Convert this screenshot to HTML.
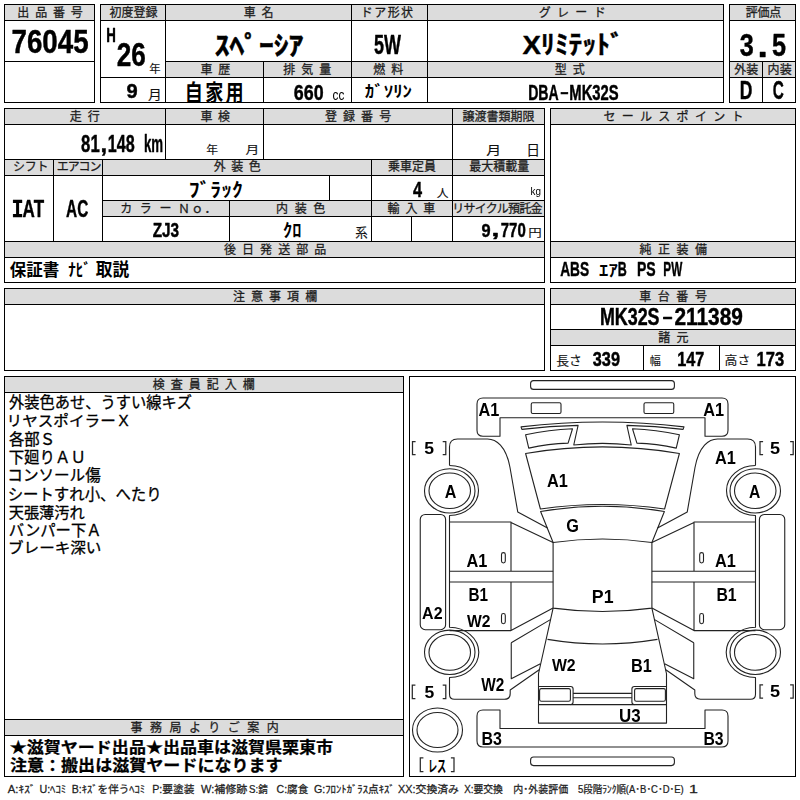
<!DOCTYPE html>
<html lang="ja"><head><meta charset="utf-8"><title>Auction sheet 76045</title>
<style>
html,body{margin:0;padding:0;background:#fff}
body{width:800px;height:800px;position:relative;overflow:hidden;font-family:"Liberation Sans",sans-serif;color:#000}
.g{position:absolute;background:#dcdcdc}
.l{position:absolute;background:#000}
svg{position:absolute;left:0;top:0;overflow:visible}
</style></head><body>
<div class="g" style="left:5px;top:5px;width:89px;height:15px"></div>
<div class="g" style="left:101px;top:5px;width:622px;height:15px"></div>
<div class="g" style="left:166px;top:62px;width:557px;height:15px"></div>
<div class="g" style="left:730px;top:5px;width:65px;height:15px"></div>
<div class="g" style="left:730px;top:62px;width:65px;height:15px"></div>
<div class="g" style="left:5px;top:109px;width:539px;height:15px"></div>
<div class="g" style="left:5px;top:160px;width:539px;height:15px"></div>
<div class="g" style="left:103px;top:201px;width:441px;height:15px"></div>
<div class="g" style="left:5px;top:242px;width:539px;height:15px"></div>
<div class="g" style="left:551px;top:109px;width:244px;height:15px"></div>
<div class="g" style="left:551px;top:242px;width:244px;height:15px"></div>
<div class="g" style="left:5px;top:289px;width:539px;height:15px"></div>
<div class="g" style="left:551px;top:289px;width:244px;height:15px"></div>
<div class="g" style="left:551px;top:330px;width:244px;height:15px"></div>
<div class="g" style="left:5px;top:377px;width:398px;height:15px"></div>
<div class="g" style="left:5px;top:720px;width:398px;height:15px"></div>
<div class="l" style="left:4px;top:4px;width:91px;height:1px"></div>
<div class="l" style="left:4px;top:102px;width:91px;height:1px"></div>
<div class="l" style="left:4px;top:20px;width:91px;height:1px"></div>
<div class="l" style="left:4px;top:61px;width:91px;height:1px"></div>
<div class="l" style="left:100px;top:4px;width:624px;height:1px"></div>
<div class="l" style="left:100px;top:102px;width:624px;height:1px"></div>
<div class="l" style="left:100px;top:20px;width:624px;height:1px"></div>
<div class="l" style="left:165px;top:61px;width:559px;height:1px"></div>
<div class="l" style="left:100px;top:77px;width:624px;height:1px"></div>
<div class="l" style="left:729px;top:4px;width:67px;height:1px"></div>
<div class="l" style="left:729px;top:102px;width:67px;height:1px"></div>
<div class="l" style="left:729px;top:20px;width:67px;height:1px"></div>
<div class="l" style="left:729px;top:61px;width:67px;height:1px"></div>
<div class="l" style="left:729px;top:77px;width:67px;height:1px"></div>
<div class="l" style="left:4px;top:108px;width:541px;height:1px"></div>
<div class="l" style="left:4px;top:282px;width:541px;height:1px"></div>
<div class="l" style="left:4px;top:124px;width:541px;height:1px"></div>
<div class="l" style="left:4px;top:159px;width:541px;height:1px"></div>
<div class="l" style="left:4px;top:175px;width:541px;height:1px"></div>
<div class="l" style="left:102px;top:200px;width:443px;height:1px"></div>
<div class="l" style="left:102px;top:216px;width:443px;height:1px"></div>
<div class="l" style="left:4px;top:241px;width:541px;height:1px"></div>
<div class="l" style="left:4px;top:257px;width:541px;height:1px"></div>
<div class="l" style="left:550px;top:108px;width:246px;height:1px"></div>
<div class="l" style="left:550px;top:282px;width:246px;height:1px"></div>
<div class="l" style="left:550px;top:124px;width:246px;height:1px"></div>
<div class="l" style="left:550px;top:241px;width:246px;height:1px"></div>
<div class="l" style="left:550px;top:257px;width:246px;height:1px"></div>
<div class="l" style="left:4px;top:288px;width:541px;height:1px"></div>
<div class="l" style="left:4px;top:370px;width:541px;height:1px"></div>
<div class="l" style="left:4px;top:304px;width:541px;height:1px"></div>
<div class="l" style="left:550px;top:288px;width:246px;height:1px"></div>
<div class="l" style="left:550px;top:370px;width:246px;height:1px"></div>
<div class="l" style="left:550px;top:304px;width:246px;height:1px"></div>
<div class="l" style="left:550px;top:329px;width:246px;height:1px"></div>
<div class="l" style="left:550px;top:345px;width:246px;height:1px"></div>
<div class="l" style="left:4px;top:376px;width:400px;height:1px"></div>
<div class="l" style="left:4px;top:776px;width:400px;height:1px"></div>
<div class="l" style="left:4px;top:392px;width:400px;height:1px"></div>
<div class="l" style="left:4px;top:719px;width:400px;height:1px"></div>
<div class="l" style="left:4px;top:735px;width:400px;height:1px"></div>
<div class="l" style="left:409px;top:376px;width:387px;height:1px"></div>
<div class="l" style="left:409px;top:776px;width:387px;height:1px"></div>
<div class="l" style="left:4px;top:4px;width:1px;height:99px"></div>
<div class="l" style="left:94px;top:4px;width:1px;height:99px"></div>
<div class="l" style="left:100px;top:4px;width:1px;height:99px"></div>
<div class="l" style="left:723px;top:4px;width:1px;height:99px"></div>
<div class="l" style="left:165px;top:4px;width:1px;height:99px"></div>
<div class="l" style="left:263px;top:61px;width:1px;height:42px"></div>
<div class="l" style="left:351px;top:4px;width:1px;height:99px"></div>
<div class="l" style="left:427px;top:4px;width:1px;height:99px"></div>
<div class="l" style="left:729px;top:4px;width:1px;height:99px"></div>
<div class="l" style="left:795px;top:4px;width:1px;height:99px"></div>
<div class="l" style="left:762px;top:61px;width:1px;height:42px"></div>
<div class="l" style="left:4px;top:108px;width:1px;height:175px"></div>
<div class="l" style="left:544px;top:108px;width:1px;height:175px"></div>
<div class="l" style="left:165px;top:108px;width:1px;height:52px"></div>
<div class="l" style="left:263px;top:108px;width:1px;height:52px"></div>
<div class="l" style="left:452px;top:108px;width:1px;height:134px"></div>
<div class="l" style="left:53px;top:159px;width:1px;height:83px"></div>
<div class="l" style="left:102px;top:159px;width:1px;height:83px"></div>
<div class="l" style="left:329px;top:175px;width:1px;height:26px"></div>
<div class="l" style="left:371px;top:159px;width:1px;height:83px"></div>
<div class="l" style="left:229px;top:200px;width:1px;height:42px"></div>
<div class="l" style="left:411px;top:216px;width:1px;height:26px"></div>
<div class="l" style="left:550px;top:108px;width:1px;height:175px"></div>
<div class="l" style="left:795px;top:108px;width:1px;height:175px"></div>
<div class="l" style="left:4px;top:288px;width:1px;height:83px"></div>
<div class="l" style="left:544px;top:288px;width:1px;height:83px"></div>
<div class="l" style="left:550px;top:288px;width:1px;height:83px"></div>
<div class="l" style="left:795px;top:288px;width:1px;height:83px"></div>
<div class="l" style="left:643px;top:345px;width:1px;height:26px"></div>
<div class="l" style="left:719px;top:345px;width:1px;height:26px"></div>
<div class="l" style="left:4px;top:376px;width:1px;height:401px"></div>
<div class="l" style="left:403px;top:376px;width:1px;height:401px"></div>
<div class="l" style="left:409px;top:376px;width:1px;height:401px"></div>
<div class="l" style="left:795px;top:376px;width:1px;height:401px"></div>
<svg width="800" height="800" viewBox="0 0 800 800" fill="none" stroke="#222" stroke-width="1.1" stroke-linejoin="round">
<rect x="530.6" y="380.6" width="143.8" height="8.8" rx="3"/>
<rect x="530.6" y="757" width="143.8" height="8.6" rx="3"/>
<path d="M500,436.25 V417.75 H705 V436.25 H722 Q728,436.25 728,430.25 V404 Q728,398 722,398 H483 Q477,398 477,404 V430.25 Q477,436.25 483,436.25 Z"/>
<path d="M500,710 V728.5 H705 V710 H722 Q728,710 728,716 V741 Q728,747 722,747 H483 Q477,747 477,741 V716 Q477,710 483,710 Z"/>
<path d="M521,426.9 Q602.5,417.1 684,426.9 L683.1,429.4 Q655,426 626.9,425.4 L631.25,445 Q602.5,441.8 573.75,445 L578.1,425.4 Q550,426 521.9,429.4 Z"/>
<path d="M525.6,453.5 Q602.5,440.3 679.4,453.5 L664.6,509 Q602.5,500 540.4,509 Z"/>
<path d="M540.6,511.5 Q602.5,501.1 664.4,511.5 L651.9,542.5 Q602.5,535.5 553.1,542.5 Z"/>
<path d="M553.1,542.5 V608.1 Q602.5,614.9 651.9,608.1 V542.5"/>
<path d="M547.5,639.4 Q602.5,648.6 657.5,639.4"/>
<path d="M553.1,608.1 L538.5,673.75 V723.1 H666.5 V673.75 L651.9,608.1"/>
<path d="M573.1,693.4 H631.9 M573.1,697.7 H631.9 M538.5,704.6 H666.5"/>
<ellipse cx="437.5" cy="730" rx="25" ry="22"/><ellipse cx="437.5" cy="730" rx="20.5" ry="17.5"/>
<g><rect x="531.25" y="402.75" width="29.75" height="10.75" rx="1.5"/><path d="M525.6,434.75 Q549,429.7 572.5,428.75 L568.1,443.1 Q548.4,443.6 528.75,448.1 Z"/><path d="M449.5,465.5 V447 Q449.5,439 457.5,439 H487.5 C496,439 506,446 510,467.5 L517.75,511.9 L547.5,528.1"/><path d="M449.5,465.5 A29,25 0 0 1 449.5,515.5 V627.2 A29.3,25.15 0 0 1 449.5,677.5 V694.3 Q449.5,699.3 454.5,699.3 H504.5 Q510.2,699.3 510.2,693.6 V690 L539.2,669.75"/><ellipse cx="449.75" cy="490.9" rx="25.25" ry="22.1"/><ellipse cx="449.75" cy="490.75" rx="20.75" ry="17.75"/><ellipse cx="449.75" cy="652.3" rx="25.25" ry="22.2"/><ellipse cx="449.75" cy="652.4" rx="20.75" ry="17.9"/><rect x="420.25" y="514.5" width="25.35" height="115.2" rx="5"/><path d="M449.5,522 H511 V571.25 M449.5,571.25 H553.1 M511,522.5 L553.1,542.5"/><path d="M449.5,582 H553.1 M511,582 V630.6 M449.5,630.6 H511 L553.1,608.1"/><path d="M511.25,642.75 L550.8,619.4 M540.4,663.75 L511.25,678.75 V642.75"/><rect x="501.5" y="552.6" width="3.8" height="10.4" rx="1.9"/><rect x="501.5" y="613.5" width="3.8" height="10.2" rx="1.9"/><path d="M538.5,686.5 H570.6 Q573.1,686.5 573.1,689 V702.1 Q573.1,704.6 570.6,704.6"/><rect x="539.6" y="688.6" width="30.8" height="12.6" rx="1.8"/></g>
<g transform="translate(1205.0,0) scale(-1,1)"><rect x="531.25" y="402.75" width="29.75" height="10.75" rx="1.5"/><path d="M525.6,434.75 Q549,429.7 572.5,428.75 L568.1,443.1 Q548.4,443.6 528.75,448.1 Z"/><path d="M449.5,465.5 V447 Q449.5,439 457.5,439 H487.5 C496,439 506,446 510,467.5 L517.75,511.9 L547.5,528.1"/><path d="M449.5,465.5 A29,25 0 0 1 449.5,515.5 V627.2 A29.3,25.15 0 0 1 449.5,677.5 V694.3 Q449.5,699.3 454.5,699.3 H504.5 Q510.2,699.3 510.2,693.6 V690 L539.2,669.75"/><ellipse cx="449.75" cy="490.9" rx="25.25" ry="22.1"/><ellipse cx="449.75" cy="490.75" rx="20.75" ry="17.75"/><ellipse cx="449.75" cy="652.3" rx="25.25" ry="22.2"/><ellipse cx="449.75" cy="652.4" rx="20.75" ry="17.9"/><rect x="420.25" y="514.5" width="25.35" height="115.2" rx="5"/><path d="M449.5,522 H511 V571.25 M449.5,571.25 H553.1 M511,522.5 L553.1,542.5"/><path d="M449.5,582 H553.1 M511,582 V630.6 M449.5,630.6 H511 L553.1,608.1"/><path d="M511.25,642.75 L550.8,619.4 M540.4,663.75 L511.25,678.75 V642.75"/><rect x="501.5" y="552.6" width="3.8" height="10.4" rx="1.9"/><rect x="501.5" y="613.5" width="3.8" height="10.2" rx="1.9"/><path d="M538.5,686.5 H570.6 Q573.1,686.5 573.1,689 V702.1 Q573.1,704.6 570.6,704.6"/><rect x="539.6" y="688.6" width="30.8" height="12.6" rx="1.8"/></g>
</svg>
<svg width="800" height="800" viewBox="0 0 800 800" font-family="Liberation Sans, Noto Sans CJK JP, sans-serif">
<g font-size="12" fill="#1c1c1c" stroke="#1c1c1c" stroke-width="0.27" stroke-linejoin="round">
<text x="17.36" y="16.85" letter-spacing="5.78">出品番号</text>
<text x="109.45" y="16.85">初度登録</text>
<text x="243.72" y="16.85" letter-spacing="5.86">車名</text>
<text x="360.72" y="16.85" letter-spacing="1.46">ドア形状</text>
<text x="538.74" y="16.85" letter-spacing="6.32">グレード</text>
<text x="745.64" y="16.85" letter-spacing="-0.2">評価点</text>
<text x="200.47" y="73.85" letter-spacing="5.86">車歴</text>
<text x="283.23" y="73.85" letter-spacing="6">排気量</text>
<text x="373.17" y="73.85" letter-spacing="6.05">燃料</text>
<text x="554.78" y="73.85" letter-spacing="5.86">型式</text>
<text x="734.37" y="73.85">外装</text>
<text x="767.42" y="73.85" letter-spacing="0.4">内装</text>
<text x="69.83" y="120.85" letter-spacing="5.86">走行</text>
<text x="200.47" y="120.85" letter-spacing="5.55">車検</text>
<text x="324.95" y="120.85" letter-spacing="6.08">登録番号</text>
<text x="462.41" y="120.85">譲渡書類期限</text>
<text x="603.40" y="120.85" letter-spacing="6.3">セールスポイント</text>
<text x="13.07" y="171.30" letter-spacing="-0.3">シフト</text>
<text x="56.80" y="171.30" letter-spacing="-1.11">エアコン</text>
<text x="213.77" y="171.30" letter-spacing="5.48">外装色</text>
<text x="388.04" y="171.30">乗車定員</text>
<text x="469.28" y="171.30">最大積載量</text>
<text x="120.16" y="213.10" letter-spacing="7.68">カラー</text>
<text x="177.93" y="213.10" letter-spacing="1.35">Ｎｏ．</text>
<text x="276.12" y="213.10" letter-spacing="6.55">内装色</text>
<text x="387.47" y="213.10" letter-spacing="5.91">輸入車</text>
<text x="452.35" y="213.10" letter-spacing="-0.75">リサイクル預託金</text>
<text x="224.03" y="254.35" letter-spacing="6.04">後日発送部品</text>
<text x="639.46" y="254.35" letter-spacing="6.48">純正装備</text>
<text x="232.94" y="301.10" letter-spacing="6.06">注意事項欄</text>
<text x="639.22" y="301.10" letter-spacing="6.57">車台番号</text>
<text x="658.13" y="341.70" letter-spacing="6.45">諸元</text>
<text x="152.65" y="389.10" letter-spacing="6">検査員記入欄</text>
<text x="130.40" y="731.85" letter-spacing="7.5">事務局よりご案内</text>
</g>
<g fill="#111" stroke="#111" stroke-width="0.12" stroke-linejoin="round">
<text transform="translate(149.21,72.97) scale(1.013,1)" font-size="11.22">年</text>
<text transform="translate(147.90,98.57) scale(1.091,1)" font-size="12.62">月</text>
<text transform="translate(206.17,154.22) scale(1.064,1)" font-size="11.22">年</text>
<text transform="translate(245.40,154.14) scale(1.173,1)" font-size="11.74">月</text>
<text transform="translate(486.27,154.59) scale(1.21,1)" font-size="12.31">月</text>
<text transform="translate(526.26,154.91) scale(1.042,1)" font-size="13.21">日</text>
<text transform="translate(436.68,197.22) scale(1.04,1)" font-size="11.37">人</text>
<text transform="translate(355.25,237.11) scale(0.985,1)" font-size="12.7">系</text>
<text transform="translate(528.33,236.95) scale(1.169,1)" font-size="11.53">円</text>
<text transform="translate(556.30,364.59) scale(1.003,1)" font-size="12.72">長さ</text>
<text transform="translate(649.87,364.69) scale(0.949,1)" font-size="11.67">幅</text>
<text transform="translate(724.53,364.65) scale(1.055,1)" font-size="12.23">高さ</text>
</g>
<text transform="translate(214.63,54.95) scale(1.112,1)" font-size="26.61" font-weight="bold" fill="#000" stroke="#000" stroke-width="0.5" stroke-linejoin="round">ｽﾍﾟｰｼｱ</text>
<text transform="translate(522.62,54.15) scale(1.065,1)" font-size="25.9" font-weight="bold" fill="#000" stroke="#000" stroke-width="0.4" stroke-linejoin="round">Xﾘﾐﾃｯﾄﾞ</text>
<svg x="166" y="78" width="97" height="24" viewBox="166 78 97 24" style="overflow:hidden"><text transform="translate(184.87,100.88) scale(0.78,1)" font-size="23.18" font-weight="bold" letter-spacing="2.95" fill="#000">自家用</text></svg>
<g font-weight="bold" fill="#000">
<text transform="translate(364.84,97.43) scale(1.169,1)" font-size="16.17">ｶﾞｿﾘﾝ</text>
<text transform="translate(188.70,196.82) scale(1.101,1)" font-size="19.67">ﾌﾞﾗｯｸ</text>
<text transform="translate(283.05,236.72) scale(1.019,1)" font-size="18.07">ｸﾛ</text>
<text transform="translate(9.82,275.79) scale(0.948,1)" font-size="17.42">保証書</text>
<text transform="translate(68.18,276.22) scale(0.909,1)" font-size="16.63">ﾅﾋﾞ</text>
<text transform="translate(95.75,275.77) scale(0.943,1)" font-size="17.68">取説</text>
<text transform="translate(599.11,275.93) scale(1.215,1)" font-size="15.37">ｴｱ</text>
</g>
<g fill="#000" stroke="#000" stroke-width="0.3" stroke-linejoin="round">
<text transform="translate(9.00,408.11) scale(0.989,1)" font-size="15.43">外装色あせ、うすい線キズ</text>
<text transform="translate(6.56,426.20) scale(1.088,1)" font-size="14.35">リヤスポイラーＸ</text>
<text transform="translate(8.88,445.15) scale(0.974,1)" font-size="15.85">各部Ｓ</text>
<text transform="translate(8.65,462.57) scale(0.96,1)" font-size="16.11">下廻りＡＵ</text>
<text transform="translate(7.32,480.92) scale(1.009,1)" font-size="15.44">コンソール傷</text>
<text transform="translate(7.67,500.13) scale(0.957,1)" font-size="16.11">シートすれ小、へたり</text>
<text transform="translate(8.69,518.10) scale(1.002,1)" font-size="15.18">天張薄汚れ</text>
<text transform="translate(8.79,535.87) scale(0.979,1)" font-size="15.7">バンパー下Ａ</text>
<text transform="translate(8.02,553.21) scale(1.063,1)" font-size="14.66">ブレーキ深い</text>
</g>
<g font-weight="bold" fill="#000" stroke="#000" stroke-width="0.25" stroke-linejoin="round">
<text transform="translate(9.79,753.15) scale(1.092,1)" font-size="15.59">★滋賀ヤード出品★出品車は滋賀県栗東市</text>
<text transform="translate(9.92,770.61) scale(1.072,1)" font-size="15.91">注意：搬出は滋賀ヤードになります</text>
</g>
<g font-size="10.3" fill="#222" stroke="#222" stroke-width="0.25" stroke-linejoin="round">
<text transform="translate(7.76,793.00) scale(1.101,1)">A:ｷｽﾞ</text>
<text transform="translate(39.38,793.00) scale(1.044,1)">U:ﾍｺﾐ</text>
<text transform="translate(71.78,793.00) scale(1.026,1)">B:ｷｽﾞを伴うﾍｺﾐ</text>
<text transform="translate(152.25,793.00) scale(1.038,1)">P:要塗装</text>
<text transform="translate(200.99,793.00) scale(1.07,1)">W:補修跡</text>
<text transform="translate(249.06,793.00) scale(0.94,1)">S:錆</text>
<text transform="translate(276.51,793.00) scale(1.03,1)">C:腐食</text>
<text transform="translate(314.01,793.00) scale(1.038,1)">G:ﾌﾛﾝﾄｶﾞﾗｽ点ｷｽﾞ</text>
<text transform="translate(398.12,793.00) scale(1.052,1)">XX:交換済み</text>
<text transform="translate(464.15,793.00) scale(0.954,1)">X:要交換</text>
<text transform="translate(513.35,793.00) scale(0.968,1)">内･外装評価</text>
<text transform="translate(577.97,793.00) scale(0.998,1)" textLength="106" lengthAdjust="spacingAndGlyphs">5段階ﾗﾝｸ順(A･B･C･D･E)</text>
<text transform="translate(689.10,793.00) scale(1.557,1)">1</text>
</g>
<text transform="translate(427.90,771.58) scale(0.593,1)" font-size="15.56" font-weight="bold" fill="#000">レス</text></svg>
<svg width="800" height="800" viewBox="0 0 800 800" style="will-change:transform" font-family="Liberation Sans, sans-serif" font-weight="bold"><text transform="translate(11.44,53.20) scale(0.8258,1)" font-size="33.62" font-weight="bold" fill="#000" stroke="#000" stroke-width="0.45" stroke-linejoin="round">76045</text>
<text transform="translate(106.14,42.27) scale(0.6762,1)" font-size="19.70" font-weight="bold" fill="#000" stroke="#000" stroke-width="0.45" stroke-linejoin="round">H</text>
<text transform="translate(116.73,65.70) scale(0.7860,1)" font-size="33.26" font-weight="bold" fill="#000" stroke="#000" stroke-width="0.45" stroke-linejoin="round">26</text>
<text transform="translate(126.44,98.32) scale(0.9775,1)" font-size="20.55" font-weight="bold" fill="#000" stroke="#000" stroke-width="0.45" stroke-linejoin="round">9</text>
<text transform="translate(373.88,53.51) scale(0.6525,1)" font-size="27.59" font-weight="bold" fill="#000" stroke="#000" stroke-width="0.45" stroke-linejoin="round">5W</text>
<text transform="translate(293.78,99.56) scale(0.7983,1)" font-size="22.39" font-weight="bold" fill="#000" stroke="#000" stroke-width="0.45" stroke-linejoin="round">660</text>
<text transform="translate(332.50,100.16) scale(0.7990,1)" font-size="14.79" font-weight="normal" fill="#000">cc</text>
<text transform="translate(528.19,99.78) scale(0.6319,1)" font-size="22.31" font-weight="bold" fill="#000" stroke="#000" stroke-width="0.45" stroke-linejoin="round">DBA</text>
<text transform="translate(560.10,97.11) scale(1.8045,1)" font-size="14.69" font-weight="bold" fill="#000" stroke="#000" stroke-width="0.45" stroke-linejoin="round">-</text>
<text transform="translate(569.34,99.53) scale(0.6847,1)" font-size="21.64" font-weight="bold" fill="#000" stroke="#000" stroke-width="0.45" stroke-linejoin="round">MK32S</text>
<text transform="translate(739.76,56.32) scale(0.8038,1)" font-size="31.36" font-weight="bold" fill="#000" stroke="#000" stroke-width="0.45" stroke-linejoin="round">3</text>
<text transform="translate(757.62,56.77) scale(1.0930,1)" font-size="33.91" font-weight="bold" fill="#000" stroke="#000" stroke-width="0.45" stroke-linejoin="round">.</text>
<text transform="translate(771.96,56.37) scale(0.7969,1)" font-size="31.60" font-weight="bold" fill="#000" stroke="#000" stroke-width="0.45" stroke-linejoin="round">5</text>
<text transform="translate(739.86,99.08) scale(0.6938,1)" font-size="25.22" font-weight="bold" fill="#000" stroke="#000" stroke-width="0.45" stroke-linejoin="round">D</text>
<text transform="translate(772.81,99.03) scale(0.6119,1)" font-size="25.07" font-weight="bold" fill="#000" stroke="#000" stroke-width="0.45" stroke-linejoin="round">C</text>
<text transform="translate(81.10,151.55) scale(0.7164,1)" font-size="23.38" font-weight="bold" fill="#000" stroke="#000" stroke-width="0.45" stroke-linejoin="round">81</text>
<text transform="translate(100.41,151.80) scale(0.9975,1)" font-size="24.04" font-weight="bold" fill="#000" stroke="#000" stroke-width="0.45" stroke-linejoin="round">,</text>
<text transform="translate(107.87,151.55) scale(0.6895,1)" font-size="23.38" font-weight="bold" fill="#000" stroke="#000" stroke-width="0.45" stroke-linejoin="round">148</text>
<text transform="translate(143.96,151.78) scale(0.5372,1)" font-size="24.77" font-weight="bold" fill="#000" stroke="#000" stroke-width="0.45" stroke-linejoin="round">km</text>
<text transform="translate(11.54,216.85) scale(0.7837,1)" font-size="25.73" font-weight="bold" fill="#000" stroke="#000" stroke-width="0.3" stroke-linejoin="round" font-family="Liberation Mono, monospace">I</text>
<text transform="translate(22.61,216.78) scale(0.6970,1)" font-size="24.42" font-weight="bold" fill="#000" stroke="#000" stroke-width="0.45" stroke-linejoin="round">AT</text>
<text transform="translate(66.05,216.54) scale(0.6488,1)" font-size="23.73" font-weight="bold" fill="#000" stroke="#000" stroke-width="0.45" stroke-linejoin="round">AC</text>
<text transform="translate(412.89,197.28) scale(0.7450,1)" font-size="21.88" font-weight="bold" fill="#000" stroke="#000" stroke-width="0.45" stroke-linejoin="round">4</text>
<text transform="translate(530.58,195.37) scale(0.9227,1)" font-size="10.73" font-weight="normal" fill="#000">kg</text>
<text transform="translate(152.68,237.05) scale(0.7764,1)" font-size="19.80" font-weight="bold" fill="#000" stroke="#000" stroke-width="0.45" stroke-linejoin="round">ZJ3</text>
<text transform="translate(481.57,236.59) scale(0.8492,1)" font-size="19.28" font-weight="bold" fill="#000" stroke="#000" stroke-width="0.45" stroke-linejoin="round">9</text>
<text transform="translate(491.42,235.74) scale(1.4378,1)" font-size="19.59" font-weight="bold" fill="#000" stroke="#000" stroke-width="0.45" stroke-linejoin="round">,</text>
<text transform="translate(500.74,236.59) scale(0.7768,1)" font-size="19.28" font-weight="bold" fill="#000" stroke="#000" stroke-width="0.45" stroke-linejoin="round">770</text>
<text transform="translate(560.19,276.28) scale(0.6863,1)" font-size="19.99" font-weight="bold" fill="#000" stroke="#000" stroke-width="0.45" stroke-linejoin="round">ABS</text>
<text transform="translate(617.80,276.47) scale(0.6083,1)" font-size="20.57" font-weight="bold" fill="#000" stroke="#000" stroke-width="0.45" stroke-linejoin="round">B</text>
<text transform="translate(636.95,276.28) scale(0.7020,1)" font-size="19.99" font-weight="bold" fill="#000" stroke="#000" stroke-width="0.45" stroke-linejoin="round">PS</text>
<text transform="translate(663.35,276.47) scale(0.5713,1)" font-size="20.57" font-weight="bold" fill="#000" stroke="#000" stroke-width="0.45" stroke-linejoin="round">PW</text>
<text transform="translate(599.94,325.31) scale(0.7485,1)" font-size="23.89" font-weight="bold" fill="#000" stroke="#000" stroke-width="0.45" stroke-linejoin="round">MK32S</text>
<text transform="translate(662.17,321.84) scale(1.9804,1)" font-size="16.37" font-weight="bold" fill="#000" stroke="#000" stroke-width="0.45" stroke-linejoin="round">-</text>
<text transform="translate(674.41,325.31) scale(0.8734,1)" font-size="23.89" font-weight="bold" fill="#000" stroke="#000" stroke-width="0.45" stroke-linejoin="round">211389</text>
<text transform="translate(592.76,365.79) scale(0.7952,1)" font-size="20.51" font-weight="bold" fill="#000" stroke="#000" stroke-width="0.45" stroke-linejoin="round">339</text>
<text transform="translate(677.21,365.77) scale(0.8132,1)" font-size="19.99" font-weight="bold" fill="#000" stroke="#000" stroke-width="0.45" stroke-linejoin="round">147</text>
<text transform="translate(756.59,365.79) scale(0.8072,1)" font-size="20.51" font-weight="bold" fill="#000" stroke="#000" stroke-width="0.45" stroke-linejoin="round">173</text>
<text transform="translate(478.59,416.00) scale(0.8982,1)" font-size="18.17" font-weight="bold" fill="#000">A1</text>
<text transform="translate(703.34,416.25) scale(0.8982,1)" font-size="18.17" font-weight="bold" fill="#000">A1</text>
<text transform="translate(715.09,463.75) scale(0.8982,1)" font-size="18.17" font-weight="bold" fill="#000">A1</text>
<text transform="translate(444.80,498.00) scale(0.8519,1)" font-size="18.90" font-weight="bold" fill="#000">A</text>
<text transform="translate(749.11,498.00) scale(0.8283,1)" font-size="18.90" font-weight="bold" fill="#000">A</text>
<text transform="translate(547.09,487.25) scale(0.9165,1)" font-size="17.81" font-weight="bold" fill="#000">A1</text>
<text transform="translate(566.33,532.33) scale(0.9233,1)" font-size="17.66" font-weight="bold" fill="#000">G</text>
<text transform="translate(466.59,566.60) scale(0.8910,1)" font-size="18.31" font-weight="bold" fill="#000">A1</text>
<text transform="translate(715.09,566.60) scale(0.8910,1)" font-size="18.31" font-weight="bold" fill="#000">A1</text>
<text transform="translate(468.38,600.80) scale(0.8554,1)" font-size="17.88" font-weight="bold" fill="#000">B1</text>
<text transform="translate(716.44,601.25) scale(0.8719,1)" font-size="18.17" font-weight="bold" fill="#000">B1</text>
<text transform="translate(466.88,626.50) scale(0.9038,1)" font-size="17.33" font-weight="bold" fill="#000">W2</text>
<text transform="translate(422.10,619.40) scale(0.9188,1)" font-size="17.40" font-weight="bold" fill="#000">A2</text>
<text transform="translate(591.81,602.60) scale(0.9995,1)" font-size="17.73" font-weight="bold" fill="#000">P1</text>
<text transform="translate(551.88,671.25) scale(0.9329,1)" font-size="16.97" font-weight="bold" fill="#000">W2</text>
<text transform="translate(630.91,672.00) scale(0.8952,1)" font-size="18.17" font-weight="bold" fill="#000">B1</text>
<text transform="translate(481.23,691.25) scale(0.8614,1)" font-size="17.90" font-weight="bold" fill="#000">W2</text>
<text transform="translate(618.98,721.80) scale(0.9603,1)" font-size="17.62" font-weight="bold" fill="#000">U3</text>
<text transform="translate(481.43,744.80) scale(0.9055,1)" font-size="17.62" font-weight="bold" fill="#000">B3</text>
<text transform="translate(703.45,744.80) scale(0.8934,1)" font-size="17.62" font-weight="bold" fill="#000">B3</text>
<text transform="translate(424.21,454.23) scale(1.0311,1)" font-size="17.05" font-weight="bold" fill="#000">5</text>
<text transform="translate(769.94,454.23) scale(1.0606,1)" font-size="17.05" font-weight="bold" fill="#000">5</text>
<text transform="translate(424.46,697.59) scale(1.0443,1)" font-size="16.84" font-weight="bold" fill="#000">5</text>
<text transform="translate(769.94,697.33) scale(1.0518,1)" font-size="17.20" font-weight="bold" fill="#000">5</text><g fill="none" stroke="#2a2a2a" stroke-width="1.25"><path d="M415.6,441.6 H412.5 V454.6 H415.6 M442.7,441.6 H445.8 V454.6 H442.7"/><path d="M763.1,441.6 H760 V454.6 H763.1 M790.1,441.6 H793.2 V454.6 H790.1"/><path d="M415.40000000000003,685.2 H412.3 V698.5 H415.40000000000003 M442.7,685.2 H445.8 V698.5 H442.7"/><path d="M763.1,684.8 H760 V698 H763.1 M790.1,684.8 H793.2 V698 H790.1"/><path d="M423.40000000000003,757.8 H420.3 V771.6 H423.40000000000003 M450.9,757.8 H454 V771.6 H450.9"/></g></svg>
</body></html>
